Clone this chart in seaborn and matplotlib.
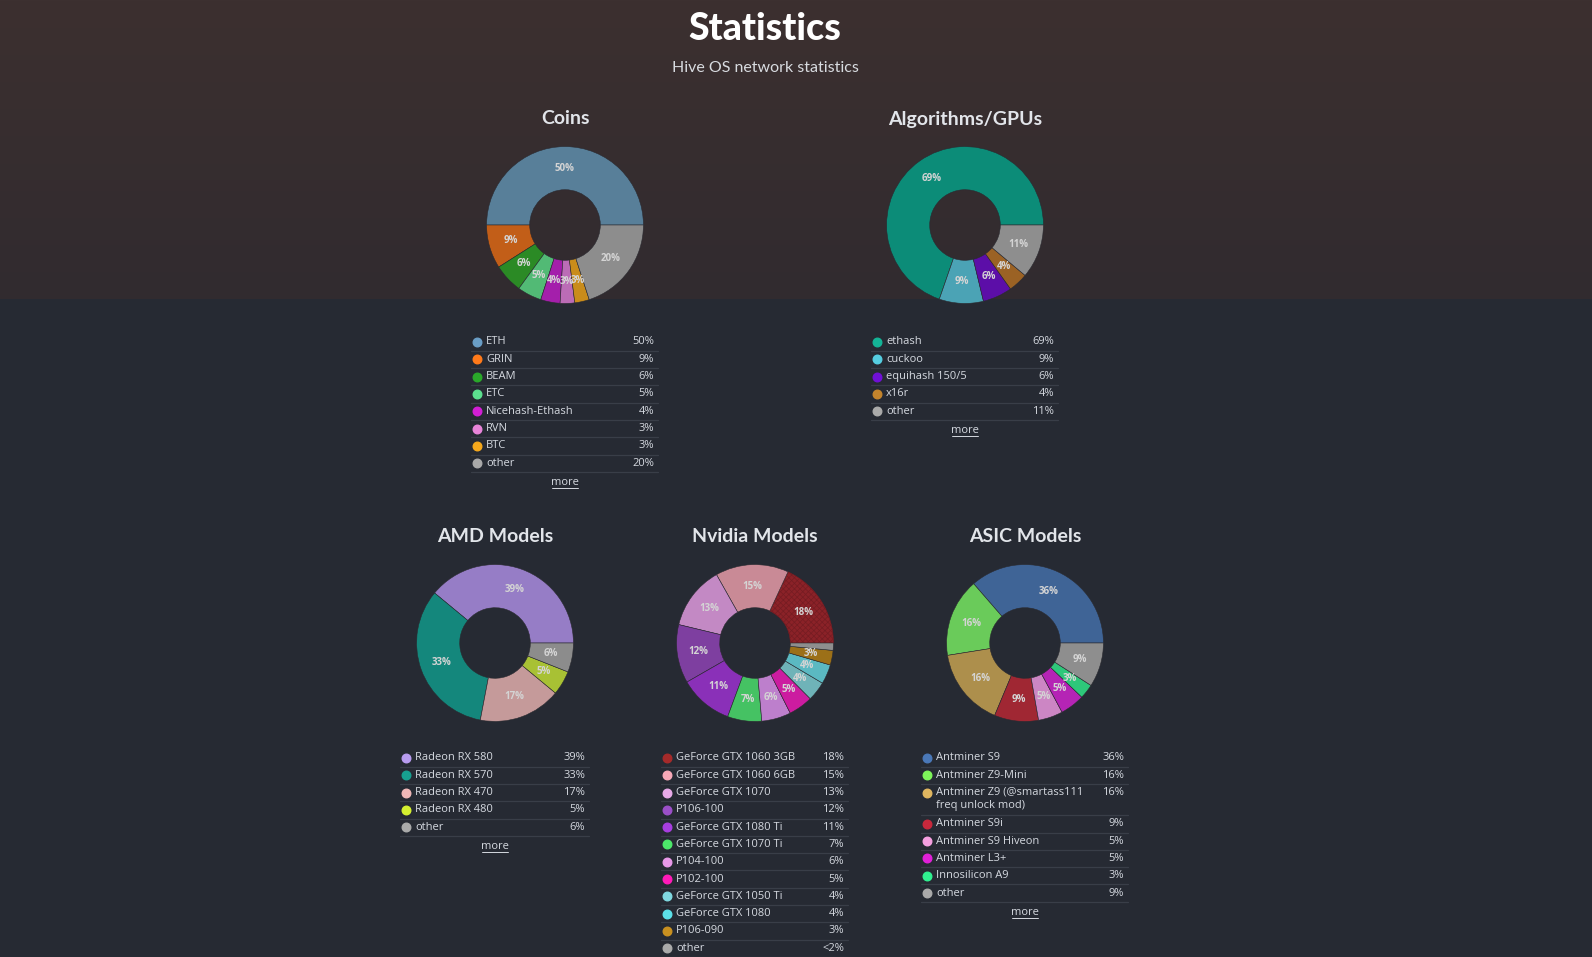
import numpy as np
import matplotlib
matplotlib.use('Agg')
import matplotlib.pyplot as plt
import seaborn as sns

sns.set_style("dark")
plt.rcParams['font.family'] = ['Open Sans', 'DejaVu Sans']
plt.rcParams['hatch.linewidth'] = 0.5

W, H = 1592, 957

# ---- data ----
coin_names = ['ETH', 'GRIN', 'BEAM', 'ETC', 'Nicehash-Ethash', 'RVN', 'BTC', 'other']
coin_vals = [50, 9, 6, 5, 4, 3, 3, 20]
coin_text = ['50%', '9%', '6%', '5%', '4%', '3%', '3%', '20%']

algo_names = ['ethash', 'cuckoo', 'equihash 150/5', 'x16r', 'other']
algo_vals = [69, 9, 6, 4, 11]
algo_text = ['69%', '9%', '6%', '4%', '11%']

amd_names = ['Radeon RX 580', 'Radeon RX 570', 'Radeon RX 470', 'Radeon RX 480', 'other']
amd_vals = [39, 33, 17, 5, 6]
amd_text = ['39%', '33%', '17%', '5%', '6%']

nv_names = ['GeForce GTX 1060 3GB', 'GeForce GTX 1060 6GB', 'GeForce GTX 1070', 'P106-100',
            'GeForce GTX 1080 Ti', 'GeForce GTX 1070 Ti', 'P104-100', 'P102-100',
            'GeForce GTX 1050 Ti', 'GeForce GTX 1080', 'P106-090', 'other']
nv_vals = [18, 15, 13, 12, 11, 7, 6, 5, 4, 4, 3, 1.5]
nv_text = ['18%', '15%', '13%', '12%', '11%', '7%', '6%', '5%', '4%', '4%', '3%', '<2%']

asic_names = ['Antminer S9', 'Antminer Z9-Mini', 'Antminer Z9 (@smartass111\nfreq unlock mod)',
              'Antminer S9i', 'Antminer S9 Hiveon', 'Antminer L3+', 'Innosilicon A9', 'other']
asic_vals = [36, 16, 16, 9, 5, 5, 3, 9]
asic_text = ['36%', '16%', '16%', '9%', '5%', '5%', '3%', '9%']

# slice colours (pie) and brighter legend dot colours
coin_pie = ['#587f99', '#c25e18', '#2b8a25', '#52ba75', '#a41fab', '#bb6cb6', '#c98c1b', '#8d8d8d']
coin_dot = ['#6a9ec6', '#ff7a1a', '#2aa82a', '#5ce08f', '#d21ed5', '#e884d9', '#f5a81c', '#a9a9a9']
algo_pie = ['#0c8c78', '#4ba3b5', '#5c0ea8', '#9b6224', '#8e8e8e']
algo_dot = ['#14b497', '#55cde0', '#7010d6', '#c4842c', '#aaaaaa']
amd_pie = ['#967dc6', '#14877c', '#c59a9a', '#a8c134', '#8c8c8c']
amd_dot = ['#b89cf0', '#17a090', '#f0b8b8', '#d5f030', '#aaaaaa']
nv_pie = ['#8b2228', '#c98a96', '#c389c4', '#7e3fa0', '#8a30b8', '#45c263', '#bd7fcc', '#cc1ca0',
          '#6fb3b8', '#5bb9c2', '#9c7018', '#8e8e8e']
nv_dot = ['#a52a2a', '#f7a9b8', '#e8aae8', '#9b4fc8', '#a83ee0', '#4ce86a', '#e898e8', '#ff1ab8',
          '#80d8e0', '#5ce0e8', '#c89020', '#aaaaaa']
asic_pie = ['#3f6496', '#6acb5a', '#ad8f4c', '#a02733', '#cc86c4', '#b524b5', '#2ec77a', '#8e8e8e']
asic_dot = ['#4a78b8', '#7ef55a', '#e0b660', '#c8283c', '#f5a0e0', '#e020d8', '#30f090', '#aaaaaa']

BG = '#262a33'
TXT = '#d5d9e0'

fig = plt.figure(figsize=(W / 100, H / 100), dpi=100)
fig.patch.set_facecolor(BG)

# background with the brownish header band
bg = fig.add_axes([0, 0, 1, 1], zorder=0)
top = np.array([60, 48, 48]) / 255
low = np.array([49, 43, 47]) / 255
base = np.array([38, 42, 51]) / 255
img = np.zeros((H, 2, 3))
for i in range(H):
    if i < 299:
        t = i / 299
        img[i, :, :] = top * (1 - t) + low * t
    else:
        img[i, :, :] = base
bg.imshow(img, extent=[0, W, H, 0], aspect='auto')
bg.set_xlim(0, W)
bg.set_ylim(H, 0)
bg.axis('off')

ov = fig.add_axes([0, 0, 1, 1], zorder=3)
ov.set_xlim(0, W)
ov.set_ylim(H, 0)
ov.axis('off')

ov.text(765, 29, 'Statistics', ha='center', va='center', fontsize=27, fontweight='black',
        family=['Lato', 'DejaVu Sans'], color='white')
ov.text(765, 68, 'Hive OS network statistics', ha='center', va='center', fontsize=11.5,
        family=['Lato', 'DejaVu Sans'], color='#d8dbe0')

R = 80
INNER = 0.45


def donut(cx, cy, title, vals, pcts, colors, hatch_first=False):
    ax = fig.add_axes([(cx - R) / W, 1 - (cy + R) / H, 2 * R / W, 2 * R / H], zorder=2)
    wedges, _ = ax.pie(vals, colors=sns.color_palette(colors), startangle=0, counterclock=True,
                       radius=1, wedgeprops=dict(width=1 - INNER, edgecolor='#2a2a30', linewidth=0.4))
    if hatch_first:
        wedges[0].set_hatch('xxxxxx')
        wedges[0].set_edgecolor('#751c22')
    for w, v, p in zip(wedges, vals, pcts):
        if v < 3:
            continue
        ang = np.deg2rad((w.theta1 + w.theta2) / 2)
        rr = (1 + INNER) / 2
        ax.text(rr * np.cos(ang), rr * np.sin(ang), p, ha='center', va='center',
                fontsize=7, fontweight='bold', color='#d4d4d4')
    ax.set_xlim(-1.02, 1.02)
    ax.set_ylim(-1.02, 1.02)
    ax.set_aspect('equal')
    ax.axis('off')
    ov.text(cx, cy - 106, title, ha='center', va='center', fontsize=14, fontweight='bold',
            family=['Lato', 'DejaVu Sans'], color='#e2e5ea')


def legend(dot_x, right_x, top_y, names, pcts, colors):
    y = top_y
    for n, p, c in zip(names, pcts, colors):
        nl = n.count('\n') + 1
        h = 17.3 + (nl - 1) * 14
        cy = y + 8.6
        ov.scatter([dot_x], [cy], s=38, color=c, zorder=4)
        if nl == 1:
            ov.text(dot_x + 9, cy, n, ha='left', va='center', fontsize=8, color=TXT)
        else:
            ov.text(dot_x + 9, cy - 6, n, ha='left', va='top', fontsize=8, color=TXT,
                    linespacing=1.35)
        ov.text(right_x, cy, p, ha='right', va='center', fontsize=8, color=TXT)
        y += h
        ov.plot([dot_x - 6, right_x + 4], [y, y], color='#393e48', lw=0.9)
    mx = (dot_x - 6 + right_x + 4) / 2
    if y + 11 < H:
        ov.text(mx, y + 11, 'more', ha='center', va='center', fontsize=8, color=TXT)
        ov.plot([mx - 13, mx + 13], [y + 16, y + 16], color=TXT, lw=0.7)


donut(565, 225, 'Coins', coin_vals, coin_text, coin_pie)
donut(965, 225, 'Algorithms/GPUs', algo_vals, algo_text, algo_pie)
donut(495, 643, 'AMD Models', amd_vals, amd_text, amd_pie)
donut(755, 643, 'Nvidia Models', nv_vals, nv_text, nv_pie, hatch_first=True)
donut(1025, 643, 'ASIC Models', asic_vals, asic_text, asic_pie)

legend(477, 654, 333.4, coin_names, coin_text, coin_dot)
legend(877, 1054, 333.4, algo_names, algo_text, algo_dot)
legend(406, 585, 749.4, amd_names, amd_text, amd_dot)
legend(667, 844, 749.4, nv_names, nv_text, nv_dot)
legend(927, 1124, 749.4, asic_names, asic_text, asic_dot)

fig.savefig('out.png', dpi=100, facecolor=BG)
